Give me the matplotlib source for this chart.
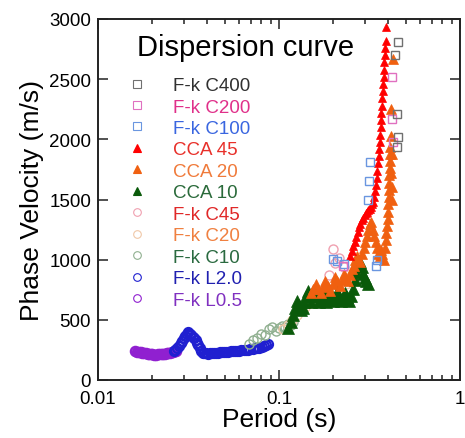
import numpy as np
import matplotlib
matplotlib.use('Agg')
import matplotlib.pyplot as plt
from matplotlib.lines import Line2D

plt.rcParams['font.family'] = ['Liberation Sans', 'DejaVu Sans']

# ---- data (period in s, phase velocity in m/s) ----
# F-k L0.5 (purple circles)
l05_t = [0.0160, 0.0164, 0.0168, 0.0172, 0.0176, 0.0180, 0.0184, 0.0188, 0.0192,
         0.0196, 0.0200, 0.0205, 0.0210, 0.0215, 0.0220, 0.0225, 0.0230, 0.0235,
         0.0240, 0.0245, 0.0250, 0.0255, 0.0260, 0.0265, 0.0270]
l05_v = [238, 235, 232, 230, 228, 226, 222, 220, 218, 215, 212, 210, 210, 212, 214,
         216, 218, 220, 222, 225, 228, 232, 236, 240, 245]

# F-k L2.0 (blue circles)
l20_t = [0.0262, 0.0268, 0.0274, 0.0280, 0.0286, 0.0292, 0.0298, 0.0304, 0.0310,
         0.0316, 0.0322, 0.0328, 0.0334, 0.0340, 0.0346, 0.0352, 0.0358, 0.0364,
         0.0370, 0.0378, 0.0386, 0.0395, 0.0405, 0.0415, 0.0425, 0.0436, 0.0448,
         0.0460, 0.0472, 0.0485, 0.0498, 0.0512, 0.0526, 0.0540, 0.0555, 0.0570,
         0.0586, 0.0602, 0.0620, 0.0638, 0.0656, 0.0675, 0.0695, 0.0715, 0.0736,
         0.0758, 0.0780, 0.0803, 0.0826, 0.0850, 0.0870]
l20_v = [240, 250, 265, 285, 305, 325, 345, 365, 385, 395, 385, 375, 360, 345, 330,
         310, 290, 265, 240, 228, 224, 222, 220, 222, 224, 225, 226, 228, 230, 232,
         234, 235, 236, 238, 240, 242, 243, 245, 246, 248, 250, 252, 255, 258, 262,
         265, 270, 275, 280, 290, 300]

# F-k C10 (grey-green circles)
c10_t = [0.068, 0.072, 0.076, 0.080, 0.084, 0.088, 0.092, 0.096, 0.100, 0.104,
         0.108, 0.112, 0.116, 0.120]
c10_v = [300, 330, 350, 385, 370, 420, 440, 410, 430, 450, 440, 465, 455, 480]

# F-k C20 (light orange circles)
c20_t = [0.105, 0.112, 0.118, 0.125, 0.132, 0.140, 0.150, 0.160, 0.170, 0.180,
         0.190, 0.200, 0.210, 0.220, 0.235, 0.250]
c20_v = [420, 460, 500, 540, 580, 610, 640, 660, 680, 700, 690, 720, 740, 760, 800, 850]

# F-k C45 (light red circles)
c45_t = [0.190, 0.200, 0.205, 0.215, 0.230]
c45_v = [870, 1090, 975, 1010, 940]

# CCA 10 (dark green triangles)
cca10_t = [0.112, 0.116, 0.120, 0.123, 0.126, 0.129, 0.132, 0.135, 0.138, 0.141,
           0.144, 0.147, 0.150, 0.154, 0.158, 0.162, 0.166, 0.170, 0.174, 0.178,
           0.182, 0.186, 0.190, 0.195, 0.200, 0.205, 0.210, 0.215, 0.220, 0.226,
           0.232, 0.238, 0.244, 0.250, 0.256, 0.262, 0.268, 0.274, 0.280, 0.286,
           0.292, 0.298, 0.304, 0.310]
cca10_v = [430, 480, 540, 600, 660, 620, 580, 600, 650, 700, 740, 700, 650, 700,
           750, 700, 650, 690, 740, 700, 650, 700, 745, 700, 655, 690, 730, 700,
           660, 690, 720, 690, 660, 700, 760, 830, 900, 960, 980, 940, 880, 850,
           820, 800]

# CCA 20 (orange triangles)
cca20_t = [0.150, 0.155, 0.160, 0.165, 0.170, 0.175, 0.180, 0.186, 0.192, 0.198,
           0.204, 0.210, 0.216, 0.222, 0.228, 0.234, 0.240, 0.246, 0.252, 0.258,
           0.264, 0.270, 0.276, 0.282, 0.288, 0.294, 0.300, 0.306, 0.312, 0.318,
           0.324, 0.330, 0.336, 0.342, 0.348, 0.354, 0.360, 0.366, 0.372, 0.378,
           0.384, 0.388, 0.392, 0.395, 0.398, 0.400, 0.402, 0.404, 0.405, 0.406,
           0.407, 0.408, 0.409, 0.410, 0.412, 0.414, 0.416, 0.418, 0.420, 0.420,
           0.422, 0.425]
cca20_v = [720, 760, 800, 760, 720, 770, 820, 780, 740, 800, 860, 820, 780, 830,
           880, 850, 820, 870, 920, 950, 1000, 1030, 1000, 980, 1050, 1100, 1150,
           1200, 1250, 1300, 1310, 1250, 1200, 1150, 1100, 1050, 1030, 1080, 1050,
           1000, 1100, 1160, 1220, 1280, 1340, 1400, 1460, 1520, 1580, 1640, 1700,
           1760, 1820, 1880, 1940, 2030, 2250, 1720, 1600, 1500, 1880, 2670]

# CCA 45 (red triangles)
cca45_t = [0.247, 0.252, 0.257, 0.262, 0.267, 0.272, 0.277, 0.282, 0.287, 0.292,
           0.297, 0.302, 0.307, 0.312, 0.317, 0.322, 0.327, 0.332, 0.336, 0.340,
           0.344, 0.347, 0.350, 0.353, 0.356, 0.358, 0.360, 0.362, 0.364, 0.366,
           0.368, 0.370, 0.372, 0.374, 0.376, 0.378, 0.380, 0.382, 0.384, 0.386,
           0.388, 0.390]
cca45_v = [1030, 1070, 1110, 1150, 1190, 1230, 1270, 1300, 1330, 1350, 1370, 1390,
           1400, 1410, 1420, 1440, 1460, 1480, 1520, 1570, 1620, 1680, 1740, 1800,
           1860, 1920, 1980, 2040, 2100, 2160, 2220, 2280, 2340, 2400, 2460, 2520,
           2580, 2640, 2700, 2760, 2820, 2935]

# F-k C100 (blue squares)
c100_t = [0.200, 0.210, 0.230, 0.310, 0.315, 0.318, 0.345, 0.350]
c100_v = [1005, 990, 965, 1500, 1655, 1810, 950, 1000]

# F-k C200 (pink squares)
c200_t = [0.225, 0.420, 0.422, 0.425]
c200_v = [950, 2520, 2170, 1980]

# F-k C400 (grey squares)
c400_t = [0.452, 0.448, 0.452, 0.450, 0.440]
c400_v = [2810, 2210, 2020, 1940, 2700]

# ---- styles: (label, text colour, marker, marker colour, filled, size, edge width) ----
series = [
    ('F-k C400', '#303030', 's', '#707070', False, 6, 1.0, c400_t, c400_v),
    ('F-k C200', '#e0308a', 's', '#e070c0', False, 6, 1.0, c200_t, c200_v),
    ('F-k C100', '#3a66e0', 's', '#6a96e0', False, 6, 1.0, c100_t, c100_v),
    ('CCA 45', '#e8302a', '^', '#ff0000', True, 6, 0.5, cca45_t, cca45_v),
    ('CCA 20', '#f07a3a', '^', '#f06010', True, 7, 0.5, cca20_t, cca20_v),
    ('CCA 10', '#2a6a3a', '^', '#0a5a0a', True, 9, 0.5, cca10_t, cca10_v),
    ('F-k C45', '#e02828', 'o', '#f0a0b0', False, 6.5, 1.0, c45_t, c45_v),
    ('F-k C20', '#f08040', 'o', '#f0c8a8', False, 6.5, 1.0, c20_t, c20_v),
    ('F-k C10', '#2a6a40', 'o', '#90b090', False, 6.5, 1.0, c10_t, c10_v),
    ('F-k L2.0', '#2020b0', 'o', '#2020d0', False, 6.5, 1.6, l20_t, l20_v),
    ('F-k L0.5', '#8030c0', 'o', '#9020d0', False, 6.5, 1.8, l05_t, l05_v),
]

fig = plt.figure(figsize=(4.65, 4.39), dpi=100)
ax = fig.add_axes([98 / 465, 1 - 381 / 439, 362 / 465, 361 / 439])

# draw back-to-front: circles and squares first, triangles on top in order
order = [10, 9, 8, 7, 6, 5, 4, 3, 2, 1, 0]
for i in order:
    lab, tc, mk, mc, filled, ms, ew, t, v = series[i]
    ax.plot(t, v, ls='none', marker=mk, ms=ms, mec=mc,
            mfc=mc if filled else 'none', mew=ew)

ax.set_xscale('log')
ax.set_xlim(0.01, 1)
ax.set_ylim(0, 3000)
ax.set_yticks([0, 500, 1000, 1500, 2000, 2500, 3000])
ax.set_xticks([0.01, 0.1, 1])
ax.set_xticklabels(['0.01', '0.1', '1'])
ax.tick_params(which='both', direction='in', top=True, right=True,
               labelsize=13.5, width=1.1, color='#222222')
ax.tick_params(which='major', length=7)
ax.tick_params(which='minor', length=3.5)
ax.tick_params(axis='x', which='major', pad=7)
ax.tick_params(axis='y', which='major', pad=5)
for s in ax.spines.values():
    s.set_linewidth(1.4)
    s.set_color('#222222')

ax.set_xlabel('Period (s)', fontsize=19, labelpad=0)
ax.set_ylabel('Phase Velocity (m/s)', fontsize=19, labelpad=4)

ax.text(137 / 465, 1 - 48 / 439, 'Dispersion curve', transform=fig.transFigure,
        fontsize=21, va='center', ha='left')

handles = []
for lab, tc, mk, mc, filled, ms, ew, t, v in series:
    handles.append(Line2D([], [], ls='none', marker=mk, ms=5.5, mec=mc,
                          mfc=mc if filled else 'none', mew=0.8))
leg = ax.legend(handles, [s[0] for s in series], loc='upper left',
                bbox_to_anchor=(128 / 465, 1 - 78 / 439),
                bbox_transform=fig.transFigure, frameon=False,
                fontsize=13.5, handlelength=1.0, handletextpad=1.4,
                labelspacing=0.23, borderpad=0, borderaxespad=0,
                labelcolor=[s[1] for s in series])

fig.savefig('out.png', dpi=100)
